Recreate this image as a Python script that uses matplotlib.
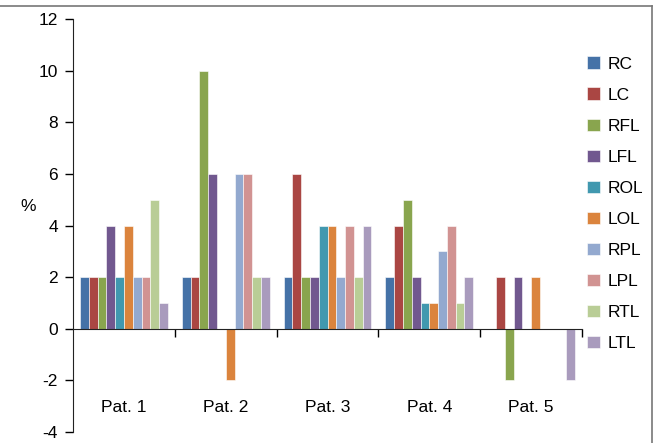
import numpy as np
import matplotlib.pyplot as plt
from matplotlib.lines import Line2D

plt.rcParams['font.family'] = ['Liberation Sans', 'DejaVu Sans']
plt.rcParams['axes.unicode_minus'] = False

# data
patients = ['Pat. 1', 'Pat. 2', 'Pat. 3', 'Pat. 4', 'Pat. 5']
regions = ['RC', 'LC', 'RFL', 'LFL', 'ROL', 'LOL', 'RPL', 'LPL', 'RTL', 'LTL']
values = {
    'RC':  [2, 2, 2, 2, 0],
    'LC':  [2, 2, 6, 4, 2],
    'RFL': [2, 10, 2, 5, -2],
    'LFL': [4, 6, 2, 2, 2],
    'ROL': [2, 0, 4, 1, 0],
    'LOL': [4, -2, 4, 1, 2],
    'RPL': [2, 6, 2, 3, 0],
    'LPL': [2, 6, 4, 4, 0],
    'RTL': [5, 2, 2, 1, 0],
    'LTL': [1, 2, 4, 2, -2],
}
colors = ['#4572A7', '#AA4643', '#89A54E', '#71588F', '#4198AF',
          '#DB843D', '#93A9CF', '#D19392', '#B9CD96', '#A99BBD']

fs = 12.5
fig = plt.figure(figsize=(6.58, 4.43), dpi=100)
ax = fig.add_axes([0.111, 0.0248, 0.7735, 0.9323])

x = np.arange(len(patients))
w = 0.0863
for i, reg in enumerate(regions):
    ax.bar(x + (i - 4.5) * w, values[reg], width=w, color=colors[i],
           edgecolor='white', linewidth=0.4, label=reg, zorder=2)

ax.set_xlim(-0.5, 4.5)
ax.set_ylim(-4, 12)
ax.set_yticks(range(-4, 13, 2))
ax.tick_params(axis='y', direction='out', length=6, width=1, labelsize=fs, pad=5)
ax.set_xticks(np.arange(0.5, 5, 1))
ax.set_xticklabels([])
ax.tick_params(axis='x', direction='out', length=6, width=1)

for s in ['top', 'right']:
    ax.spines[s].set_visible(False)
ax.spines['bottom'].set_position(('data', 0))
ax.spines['left'].set_color('#222222')
ax.spines['bottom'].set_color('#222222')

for i, p in enumerate(patients):
    ax.text(i, -3.05, p, ha='center', va='center', fontsize=fs)

fig.text(0.043, 0.533, '%', ha='center', va='center', fontsize=fs)

ax.legend(loc='upper left', bbox_to_anchor=(0.983, 0.943), frameon=False,
          fontsize=fs, handlelength=0.75, handleheight=0.75, labelspacing=0.9,
          handletextpad=0.45, borderaxespad=0.4)

# outer chart frame (partially visible)
fig.add_artist(Line2D([0, 0.991], [0.986, 0.986], color='#777777', lw=1.2))
fig.add_artist(Line2D([0.991, 0.991], [0, 0.986], color='#777777', lw=1.2))

fig.savefig('out.png', dpi=100)
